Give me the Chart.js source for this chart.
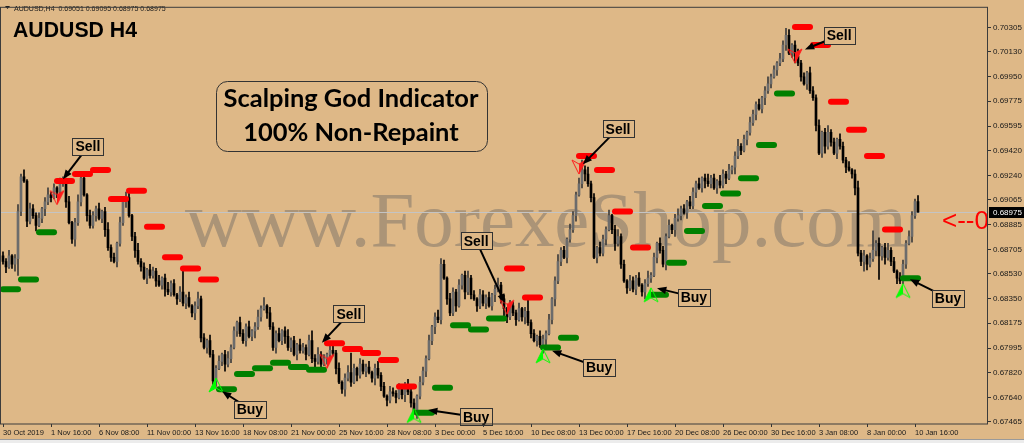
<!DOCTYPE html>
<html>
<head>
<meta charset="utf-8">
<script src="https://cdn.jsdelivr.net/npm/chart.js@4.4.0/dist/chart.umd.min.js"></script>
<style>
  html, body { margin: 0; padding: 0; background: #deb887; }
  #c { display: block; }
</style>
</head>
<body>
<canvas id="c" width="1024" height="443"></canvas>
<script>
// AUDUSD H4 candles, prices in pips (0.6862 -> 6862), one entry per bar
const opens = [
  6866,6862,6858,6866,6860,6864,6898,6923,6920,6891,
  6900,6895,6888,6893,6900,6905,6910,6908,6915,6912,
  6918,6920,6905,6890,6878,6890,6905,6922,6910,6895,
  6888,6895,6900,6893,6898,6885,6872,6865,6862,6875,
  6890,6905,6908,6895,6880,6870,6862,6858,6850,6856,
  6852,6855,6848,6845,6850,6842,6840,6846,6838,6835,
  6840,6832,6836,6830,6825,6830,6835,6807,6800,6805,
  6795,6776,6785,6790,6795,6788,6792,6800,6812,6818,
  6810,6805,6815,6808,6812,6815,6822,6828,6830,6825,
  6815,6800,6810,6805,6812,6808,6800,6805,6795,6802,
  6798,6800,6795,6805,6792,6790,6795,6788,6792,6795,
  6798,6796,6785,6775,6770,6778,6782,6775,6785,6780,
  6788,6783,6786,6782,6778,6785,6780,6772,6765,6762,
  6768,6767,6764,6770,6766,6772,6768,6760,6753,6765,
  6775,6783,6792,6805,6815,6822,6820,6860,6850,6835,
  6825,6840,6830,6845,6852,6840,6850,6838,6835,6830,
  6838,6832,6836,6830,6838,6842,6845,6835,6828,6822,
  6830,6825,6820,6828,6822,6826,6818,6810,6805,6808,
  6802,6806,6810,6820,6835,6848,6862,6870,6865,6878,
  6885,6895,6910,6918,6928,6925,6918,6908,6865,6872,
  6868,6878,6885,6895,6885,6875,6880,6860,6848,6843,
  6848,6842,6850,6845,6840,6846,6850,6852,6865,6875,
  6870,6860,6880,6888,6885,6893,6895,6900,6897,6905,
  6902,6912,6918,6915,6922,6920,6918,6922,6915,6920,
  6917,6925,6922,6928,6930,6938,6945,6942,6950,6955,
  6962,6968,6975,6972,6980,6985,6990,6995,7000,7005,
  7008,7018,7025,7012,7018,7010,7005,6995,6990,6998,
  6985,6980,6960,6940,6955,6945,6955,6948,6940,6950,
  6945,6935,6930,6928,6925,6915,6868,6862,6866,6860,
  6864,6870,6875,6866,6872,6865,6870,6862,6855,6850,
  6848,6860,6875,6880,6895,6905.1
];
const highs = [
  6869,6864,6870,6867,6867,6903,6925,6928,6921,6904,
  6903,6897,6897,6901,6908,6915,6912,6918,6916,6922,
  6923,6922,6909,6891,6893,6910,6924,6925,6911,6899,
  6898,6902,6904,6899,6901,6890,6874,6868,6876,6894,
  6908,6912,6912,6896,6883,6875,6864,6861,6857,6860,
  6858,6857,6852,6851,6853,6847,6848,6849,6839,6844,
  6856,6838,6840,6831,6833,6840,6837,6810,6806,6809,
  6798,6787,6794,6796,6798,6797,6802,6815,6819,6822,
  6813,6817,6819,6813,6818,6827,6830,6836,6831,6829,
  6818,6812,6814,6813,6815,6813,6807,6808,6803,6806,
  6803,6802,6809,6812,6795,6800,6797,6795,6796,6802,
  6801,6798,6789,6776,6781,6787,6796,6788,6786,6792,
  6791,6788,6790,6783,6788,6790,6782,6775,6766,6772,
  6771,6769,6774,6771,6775,6777,6770,6763,6766,6779,
  6786,6794,6809,6816,6825,6827,6864,6863,6851,6839,
  6843,6842,6849,6853,6855,6855,6852,6841,6836,6842,
  6841,6838,6840,6839,6845,6850,6847,6838,6829,6834,
  6833,6827,6832,6829,6829,6835,6820,6813,6809,6812,
  6809,6812,6824,6836,6851,6867,6872,6873,6879,6889,
  6898,6912,6922,6935,6931,6930,6920,6911,6873,6876,
  6881,6887,6899,6896,6888,6885,6882,6863,6849,6852,
  6851,6852,6854,6846,6849,6855,6854,6868,6876,6879,
  6873,6882,6892,6889,6896,6900,6902,6903,6906,6909,
  6915,6920,6922,6923,6925,6925,6924,6925,6921,6924,
  6928,6927,6932,6931,6941,6950,6947,6953,6956,6966,
  6971,6977,6979,6981,6988,6995,6997,7003,7006,7012,
  7021,7030,7029,7019,7021,7015,7007,6998,6999,7002,
  6988,6982,6964,6956,6958,6960,6957,6951,6951,6954,
  6948,6937,6934,6929,6928,6920,6870,6870,6867,6868,
  6884,6877,6879,6873,6875,6875,6872,6865,6856,6854,
  6863,6877,6884,6898,6907,6909.5
];
const lows = [
  6860,6854,6857,6857,6855,6852,6895,6919,6887,6889,
  6893,6884,6887,6890,6895,6903,6905,6907,6908,6910,
  6916,6901,6889,6875,6873,6888,6902,6909,6891,6886,
  6886,6891,6892,6890,6880,6870,6862,6861,6858,6873,
  6888,6901,6894,6877,6865,6860,6855,6849,6846,6850,
  6850,6844,6844,6842,6837,6838,6837,6837,6831,6833,
  6830,6828,6829,6822,6820,6828,6804,6799,6796,6793,
  6773,6772,6784,6787,6783,6786,6789,6799,6808,6808,
  6803,6801,6807,6805,6807,6813,6819,6827,6821,6813,
  6798,6796,6804,6802,6803,6798,6797,6794,6791,6796,
  6796,6791,6794,6789,6785,6788,6785,6787,6788,6793,
  6794,6781,6774,6767,6765,6776,6772,6774,6776,6778,
  6781,6779,6781,6775,6773,6778,6769,6764,6758,6760,
  6765,6760,6763,6763,6761,6766,6757,6752,6749,6763,
  6773,6779,6791,6802,6810,6818,6817,6849,6831,6823,
  6823,6826,6829,6842,6835,6838,6835,6834,6826,6828,
  6830,6828,6829,6827,6833,6840,6832,6820,6818,6820,
  6823,6816,6819,6819,6817,6816,6807,6804,6801,6800,
  6796,6802,6809,6817,6830,6846,6859,6864,6861,6876,
  6883,6891,6909,6915,6920,6916,6905,6864,6861,6866,
  6866,6874,6884,6882,6870,6873,6857,6847,6839,6841,
  6840,6838,6844,6837,6835,6844,6847,6851,6861,6868,
  6858,6856,6879,6882,6880,6891,6892,6896,6893,6900,
  6900,6908,6914,6912,6915,6916,6915,6914,6911,6915,
  6915,6918,6921,6925,6925,6936,6939,6941,6946,6953,
  6960,6964,6971,6969,6975,6983,6987,6994,6996,7003,
  7006,7014,7011,7009,7005,7003,6992,6989,6986,6983,
  6978,6956,6939,6937,6940,6943,6945,6939,6936,6943,
  6933,6926,6927,6922,6910,6866,6859,6855,6856,6858,
  6862,6866,6849,6863,6860,6863,6859,6854,6846,6846,
  6846,6857,6874,6876,6893,6897.5
];
const closes = [
  6862,6858,6866,6860,6864,6898,6923,6920,6891,6900,
  6895,6888,6893,6900,6905,6910,6908,6915,6912,6918,
  6920,6905,6890,6878,6890,6905,6922,6910,6895,6888,
  6895,6900,6893,6898,6885,6872,6865,6862,6875,6890,
  6905,6908,6895,6880,6870,6862,6858,6850,6856,6852,
  6855,6848,6845,6850,6842,6840,6846,6838,6835,6840,
  6832,6836,6830,6825,6830,6835,6807,6800,6805,6795,
  6776,6785,6790,6795,6788,6792,6800,6812,6818,6810,
  6805,6815,6808,6812,6815,6822,6828,6830,6825,6815,
  6800,6810,6805,6812,6808,6800,6805,6795,6802,6798,
  6800,6795,6805,6792,6790,6795,6788,6792,6795,6798,
  6796,6785,6775,6770,6778,6782,6775,6785,6780,6788,
  6783,6786,6782,6778,6785,6780,6772,6765,6762,6768,
  6767,6764,6770,6766,6772,6768,6760,6753,6765,6775,
  6783,6792,6805,6815,6822,6820,6860,6850,6835,6825,
  6840,6830,6845,6852,6840,6850,6838,6835,6830,6838,
  6832,6836,6830,6838,6842,6845,6835,6828,6822,6830,
  6825,6820,6828,6822,6826,6818,6810,6805,6808,6802,
  6806,6810,6820,6835,6848,6862,6870,6865,6878,6885,
  6895,6910,6918,6928,6925,6918,6908,6865,6872,6868,
  6878,6885,6895,6885,6875,6880,6860,6848,6843,6848,
  6842,6850,6845,6840,6846,6850,6852,6865,6875,6870,
  6860,6880,6888,6885,6893,6895,6900,6897,6905,6902,
  6912,6918,6915,6922,6920,6918,6922,6915,6920,6917,
  6925,6922,6928,6930,6938,6945,6942,6950,6955,6962,
  6968,6975,6972,6980,6985,6990,6995,7000,7005,7008,
  7018,7025,7012,7018,7010,7005,6995,6990,6998,6985,
  6980,6960,6940,6955,6945,6955,6948,6940,6950,6945,
  6935,6930,6928,6925,6915,6868,6862,6866,6860,6864,
  6870,6875,6866,6872,6865,6870,6862,6855,6850,6848,
  6860,6875,6880,6895,6905.1,6897.5
];

// time axis: one label every 16 bars
const xLabelBars = [0,16,32,48,64,80,96,112,128,144,160,176,192,208,224,240,256,272,288,304];
const xLabels = ['30 Oct 2019','1 Nov 16:00','6 Nov 08:00','11 Nov 00:00','13 Nov 16:00','18 Nov 08:00',
  '21 Nov 00:00','25 Nov 16:00','28 Nov 08:00','3 Dec 00:00','5 Dec 16:00','10 Dec 08:00','13 Dec 00:00',
  '17 Dec 16:00','20 Dec 08:00','26 Dec 00:00','30 Dec 16:00','3 Jan 08:00','8 Jan 00:00','10 Jan 16:00'];
const yTicks = [0.70305,0.70130,0.69950,0.69775,0.69595,0.69420,0.69240,0.69065,0.68885,
  0.68705,0.68530,0.68350,0.68175,0.67995,0.67820,0.67640,0.67465];

// indicator levels (start bar, level in pips)
const redStart = [18,24,30,36,42,48,54,60,66,108,114,120,126,132,168,174,192,198,204,210,264,270,276,282,288,294];
const redLevel = [6920,6925,6928,6907,6913,6887,6865,6857,6849,6803,6799,6796,6791,6772,6857,6836,6938,6928,6898,6872,7031,7018,6977,6957,6938,6885];
const greenStart = [0,6,12,72,78,84,90,96,102,138,144,150,156,162,180,186,216,222,228,234,240,246,252,258,300];
const greenLevel = [6842,6849,6883,6770,6781,6785,6789,6786,6784,6753,6771,6816,6813,6821,6800,6807,6838,6861,6884,6902,6911,6922,6946,6983,6850];
const sellBars = [18,108,168,192,264];
const sellPrices = [6908,6790,6829,6930,7010];
const buyBars = [71,137,180,216,300];
const buyPrices = [6773,6751,6794,6838,6841];

// call-out labels: box centre and arrow tip (bar, pips)
const annText = ['Sell','Sell','Sell','Sell','Sell','Buy','Buy','Buy','Buy','Buy'];
const annBar = [28.3,115.3,157.7,205,278.7,82.3,157.7,198.7,230.3,315];
const annPrice = [6944.8,6824.2,6877,6957.7,7024.8,6755.6,6750,6785.6,6836.3,6835.6];
const tipBar = [20,106.3,167.3,193.3,267.3,73,141.7,183,218,302.3];
const tipPrice = [6921.3,6803.5,6832,6932,7014.8,6768.5,6755,6797.7,6842.7,6849.2];

const BG = '#deb887';
const P = v => v / 10000;
const last = closes.length - 1;

function arrowImg(color) {
  const c = document.createElement('canvas');
  c.width = 16; c.height = 16;
  const g = c.getContext('2d');
  g.fillStyle = color; g.strokeStyle = color; g.lineWidth = 1;
  g.beginPath(); g.moveTo(8, 1); g.lineTo(8, 11); g.lineTo(1, 15); g.closePath(); g.fill();
  g.beginPath(); g.moveTo(8, 1); g.lineTo(15, 15); g.lineTo(8, 11); g.lineTo(1, 15); g.closePath(); g.stroke();
  return c;
}

const upCandle = closes.map((c, i) => c >= opens[i]);
const datasets = [];

redStart.forEach((s, k) => datasets.push({
  type: 'line', order: 2, data: [{x: s, y: P(redLevel[k])}, {x: s + 5, y: P(redLevel[k])}],
  borderColor: '#ff0000', borderWidth: 6, borderCapStyle: 'round', pointRadius: 0
}));
greenStart.forEach((s, k) => datasets.push({
  type: 'line', order: 2, data: [{x: s, y: P(greenLevel[k])}, {x: s + 5, y: P(greenLevel[k])}],
  borderColor: '#008000', borderWidth: 6, borderCapStyle: 'round', pointRadius: 0
}));
datasets.push({
  type: 'line', order: 1, showLine: false,
  data: sellBars.map((b, k) => ({x: b, y: P(sellPrices[k])})),
  pointStyle: arrowImg('#ff1a1a'), pointRotation: 180
});
datasets.push({
  type: 'line', order: 1, showLine: false,
  data: buyBars.map((b, k) => ({x: b, y: P(buyPrices[k])})),
  pointStyle: arrowImg('#00ff00')
});
datasets.push({
  type: 'bar', order: 3, grouped: false, barThickness: 2,
  data: closes.map((c, i) => ({x: i, y: [P(opens[i]), P(c)]})),
  backgroundColor: upCandle.map(u => u ? '#6c6c6c' : '#000000')
});
datasets.push({
  type: 'bar', order: 4, grouped: false, barThickness: 1,
  data: closes.map((c, i) => ({x: i, y: [P(lows[i]), P(highs[i])]})),
  backgroundColor: upCandle.map(u => u ? '#3c3c3c' : '#000000')
});

function fitFont(ctx, text, weight, family, width) {
  ctx.font = `${weight} 100px ${family}`;
  const s = 100 * width / ctx.measureText(text).width;
  return `${weight} ${s.toFixed(2)}px ${family}`;
}

function drawArrow(ctx, x1, y1, x2, y2) {
  const a = Math.atan2(y2 - y1, x2 - x1), hl = 10;
  ctx.strokeStyle = '#000'; ctx.fillStyle = '#000'; ctx.lineWidth = 2;
  ctx.beginPath(); ctx.moveTo(x1, y1);
  ctx.lineTo(x2 - hl * 0.7 * Math.cos(a), y2 - hl * 0.7 * Math.sin(a)); ctx.stroke();
  ctx.beginPath(); ctx.moveTo(x2, y2);
  ctx.lineTo(x2 - hl * Math.cos(a - 0.38), y2 - hl * Math.sin(a - 0.38));
  ctx.lineTo(x2 - hl * Math.cos(a + 0.38), y2 - hl * Math.sin(a + 0.38));
  ctx.closePath(); ctx.fill();
}

const decor = {
  id: 'decor',
  beforeDraw(chart) {
    const {ctx, width, height} = chart;
    ctx.save();
    ctx.fillStyle = BG; ctx.fillRect(0, 0, width, height);
    ctx.fillStyle = '#9a9a9a'; ctx.fillRect(0, 439, width, 1);
    ctx.fillStyle = '#ececec'; ctx.fillRect(0, 440, width, 3);
    ctx.restore();
  },
  beforeDatasetsDraw(chart) {
    const {ctx, chartArea: a, scales: {y}} = chart;
    ctx.save();
    ctx.beginPath(); ctx.rect(a.left, a.top, a.right - a.left, a.bottom - a.top); ctx.clip();
    ctx.font = fitFont(ctx, 'www.ForexeShop.com', 'normal', '"Liberation Serif"', 722);
    ctx.fillStyle = 'rgba(120,112,104,0.5)';
    ctx.textBaseline = 'alphabetic'; ctx.textAlign = 'left';
    ctx.fillText('www.ForexeShop.com', 185, 246);
    const py = Math.round(y.getPixelForValue(P(closes[last]))) + 0.5;
    ctx.strokeStyle = '#c4c4c4'; ctx.lineWidth = 1;
    ctx.beginPath(); ctx.moveTo(a.left, py); ctx.lineTo(a.right, py); ctx.stroke();
    ctx.restore();
  },
  afterDatasetsDraw(chart) {
    const {ctx, scales: {x, y}} = chart;
    ctx.save();
    annText.forEach((t, k) => {
      const cx = x.getPixelForValue(annBar[k]), cy = y.getPixelForValue(P(annPrice[k]));
      drawArrow(ctx, cx, cy, x.getPixelForValue(tipBar[k]), y.getPixelForValue(P(tipPrice[k])));
      ctx.font = 'bold 14px "Liberation Sans"';
      const w = Math.round(ctx.measureText(t).width + 6), h = 17;
      const bx = Math.round(cx - w / 2) + 0.5, by = Math.round(cy - h / 2) + 0.5;
      ctx.fillStyle = BG; ctx.fillRect(bx, by, w, h);
      ctx.strokeStyle = '#333'; ctx.lineWidth = 1; ctx.strokeRect(bx, by, w, h);
      ctx.fillStyle = '#000'; ctx.textAlign = 'center'; ctx.textBaseline = 'middle';
      ctx.fillText(t, cx, cy + 1);
    });

    // info box
    ctx.strokeStyle = '#333'; ctx.lineWidth = 1;
    ctx.beginPath(); ctx.roundRect(216.5, 81.5, 271, 70, 11); ctx.stroke();
    ctx.fillStyle = '#000'; ctx.textAlign = 'center'; ctx.textBaseline = 'alphabetic';
    ctx.font = fitFont(ctx, 'Scalping God Indicator', 'bold', 'Lato', 255);
    ctx.fillText('Scalping God Indicator', 351, 107);
    ctx.fillText('100% Non-Repaint', 351, 141);

    // title and header
    ctx.textAlign = 'left';
    ctx.font = fitFont(ctx, 'AUDUSD H4', 'bold', '"Liberation Sans"', 124);
    ctx.fillText('AUDUSD H4', 13, 37);
    const head = 'AUDUSD,H4  ' + [opens[last], highs[last], lows[last], closes[last]].map(v => P(v).toFixed(5)).join(' ');
    ctx.font = fitFont(ctx, head, 'normal', '"Liberation Sans"', 152);
    ctx.fillStyle = '#1a1a1a';
    ctx.fillText(head, 14, 11);
    ctx.beginPath(); ctx.moveTo(5, 6); ctx.lineTo(10, 6); ctx.lineTo(7.5, 9); ctx.closePath(); ctx.fill();

    ctx.font = fitFont(ctx, '<--0', 'normal', '"Liberation Sans"', 47);
    ctx.fillStyle = '#ff0000';
    ctx.fillText('<--0', 942, 229);
    ctx.restore();
  },
  afterDraw(chart) {
    const {ctx, chartArea: a, scales: {y}} = chart;
    ctx.save();
    ctx.strokeStyle = '#3c3c3c'; ctx.lineWidth = 1;
    ctx.strokeRect(a.left + 0.5, a.top + 0.5, a.right - a.left - 1, a.bottom - a.top - 0.5);
    const py = Math.round(y.getPixelForValue(P(closes[last])));
    ctx.fillStyle = '#000'; ctx.fillRect(a.right + 1, py - 5, 36, 11);
    ctx.fillStyle = '#fff'; ctx.font = '8px "Liberation Sans"';
    ctx.textAlign = 'left'; ctx.textBaseline = 'middle';
    ctx.fillText(P(closes[last]).toFixed(5), a.right + 5, py + 0.5);
    ctx.restore();
  }
};

new Chart(document.getElementById('c'), {
  type: 'bar',
  data: { datasets },
  options: {
    responsive: false,
    animation: false,
    events: [],
    layout: { autoPadding: false, padding: { left: 0, top: 3, right: 0, bottom: 0 } },
    plugins: { legend: { display: false }, tooltip: { enabled: false } },
    scales: {
      x: {
        type: 'linear', min: -1, max: 328.3333, offset: false,
        grid: { display: true, drawOnChartArea: false, offset: false, tickLength: 3, color: '#333' },
        border: { display: false },
        afterBuildTicks: s => { s.ticks = xLabelBars.map(v => ({ value: v })); },
        afterFit: s => { s.height = 19; },
        ticks: {
          autoSkip: false, maxRotation: 0, align: 'start', padding: 1, color: '#1a1a1a',
          font: { family: 'Liberation Sans', size: 7.5 },
          callback: (v, i) => xLabels[i]
        }
      },
      y: {
        position: 'right', min: 0.67449, max: 0.70455, beginAtZero: false,
        grid: { display: true, drawOnChartArea: false, tickLength: 3, color: '#333' },
        border: { display: false },
        afterBuildTicks: s => { s.ticks = yTicks.map(v => ({ value: v })); },
        afterFit: s => { s.width = 36; },
        ticks: {
          autoSkip: false, padding: 2, color: '#1a1a1a',
          font: { family: 'Liberation Sans', size: 8 },
          callback: v => v.toFixed(5)
        }
      }
    }
  },
  plugins: [decor]
});
</script>
</body>
</html>
